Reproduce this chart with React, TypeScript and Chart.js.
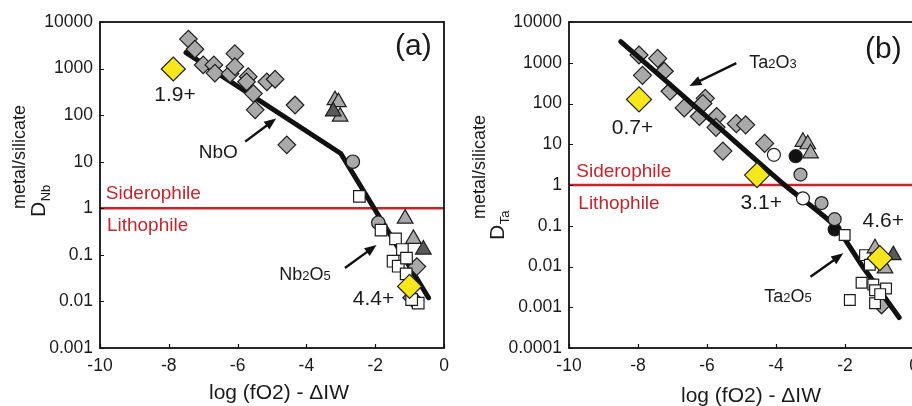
import React, { useEffect, useRef } from 'react';
import { Chart, registerables } from 'chart.js';

Chart.register(...registerables);

const FONT = '"Liberation Sans", Arial, Helvetica, sans-serif';
const RED = '#c1272d';
const GRAY = '#a9a9a9';
const DARK = '#595959';
const YELLOW = '#f6e71d';
const INK = '#1e1e1e';

// ---------- axes ----------
const X_TICKS = [-10, -8, -6, -4, -2, 0];
const X_TICK_LABELS = ['-10', '-8', '-6', '-4', '-2', '0'];
const Y_TICKS_A = [0.001, 0.01, 0.1, 1, 10, 100, 1000, 10000];
const Y_TICK_LABELS_A = ['0.001', '0.01', '0.1', '1', '10', '100', '1000', '10000'];
const Y_TICKS_B = [0.0001, 0.001, 0.01, 0.1, 1, 10, 100, 1000, 10000];
const Y_TICK_LABELS_B = ['0.0001', '0.001', '0.01', '0.1', '1', '10', '100', '1000', '10000'];

// ---------- panel (a): Nb ----------
const nbGrayDiamondX = [-7.43, -7.24, -7.0, -6.69, -6.66, -6.22, -6.08, -6.08, -5.69, -5.74, -5.54, -5.15, -4.91, -5.49, -4.57, -4.33, -0.79, -0.94];
const nbGrayDiamondY = [4300, 2600, 1200, 1200, 800, 770, 2100, 1100, 670, 520, 290, 520, 590, 130, 23, 165, 0.056, 0.012];
const nbYellowX = [-7.87, -1.0];
const nbYellowY = [980, 0.021];
const nbGrayCircleX = [-2.65, -1.91];
const nbGrayCircleY = [10, 0.49];
const nbSquareX = [-2.46, -1.83, -1.41, -1.21, -1.48, -1.33, -1.09, -1.10, -0.75, -0.94];
const nbSquareY = [1.8, 0.34, 0.22, 0.13, 0.073, 0.057, 0.085, 0.039, 0.0092, 0.011];
const nbLightTriX = [-3.17, -3.07, -3.02, -1.13, -0.89];
const nbLightTriY = [210, 190, 93, 0.6, 0.22];
const nbDarkTriX = [-3.22, -0.6];
const nbDarkTriY = [120, 0.13];
const nbFitX = [-7.5, -3.0, -0.45];
const nbFitY = [2200, 15, 0.012];

// ---------- panel (b): Ta ----------
const taGrayDiamondX = [-7.97, -7.43, -7.87, -7.24, -7.07, -6.66, -6.22, -6.05, -6.12, -5.72, -5.74, -5.15, -4.88, -5.54, -4.33, -0.94];
const taGrayDiamondY = [1550, 1280, 490, 620, 200, 78, 48, 134, 100, 48, 26, 32, 30, 6.8, 10.5, 0.00115];
const taYellowX = [-7.97, -4.55, -0.99];
const taYellowY = [126, 1.75, 0.016];
const taWhiteCircleX = [-4.06, -3.22];
const taWhiteCircleY = [5.5, 0.47];
const taBlackCircleX = [-3.43, -2.30];
const taBlackCircleY = [5.1, 0.081];
const taGrayCircleX = [-3.29, -2.68, -2.30];
const taGrayCircleY = [1.8, 0.36, 0.145];
const taLightTriX = [-3.22, -3.08, -3.0, -1.13, -0.84];
const taLightTriY = [11.5, 10, 6, 0.028, 0.009];
const taDarkTriX = [-0.6];
const taDarkTriY = [0.019];
const taSquareX = [-2.01, -1.42, -1.28, -1.52, -1.18, -1.13, -0.81, -1.86, -1.13, -0.98];
const taSquareY = [0.059, 0.019, 0.011, 0.004, 0.0036, 0.0026, 0.0029, 0.0015, 0.00126, 0.0021];
const taFitX = [-8.5, -6, -3.75, -2.3, -1.5, -0.43];
const taFitY = [3300, 47, 1, 0.1, 0.0103, 0.00056];

// boundary line (metal/silicate D = 1)
const boundaryX = [-10, 0];
const boundaryY = [1, 1];

// ---------- helpers ----------
const pts = (xs: number[], ys: number[]) => xs.map((x, i) => ({ x, y: ys[i] }));

function marker(label: string, xs: number[], ys: number[], style: string, radius: number, fill: string) {
  return {
    label,
    data: pts(xs, ys),
    showLine: false,
    pointStyle: style,
    pointRadius: radius,
    pointBackgroundColor: fill,
    pointBorderColor: INK,
    pointBorderWidth: 1.2,
  };
}

function line(label: string, xs: number[], ys: number[], color: string, width: number, tension = 0) {
  return {
    label,
    data: pts(xs, ys),
    showLine: true,
    borderColor: color,
    borderWidth: width,
    pointRadius: 0,
    tension,
    fill: false,
    borderCapStyle: 'round',
    borderJoinStyle: 'round',
  };
}

type Part = [string, number];
interface TextAnn { x: number; y: number; parts: Part[]; align: 'left' | 'center'; color: string; vc?: number }
interface ArrowAnn { x1: number; y1: number; x2: number; y2: number }
interface PanelCfg {
  width: number;
  axisWidth: number;
  padRight: number;
  yMin: number;
  yMax: number;
  yTicks: number[];
  yTickLabels: string[];
  yPad: number;
  datasets: any[];
  texts: TextAnn[];
  arrows: ArrowAnn[];
  yTitle: { mx: number; my: number; dx: number; dy: number; sub: string };
  xTitle: { x: number; y: number };
}

function drawParts(ctx: CanvasRenderingContext2D, t: TextAnn, px: number, py: number) {
  let total = 0;
  const widths = t.parts.map(([s, size]) => {
    ctx.font = `${size}px ${FONT}`;
    const w = ctx.measureText(s).width;
    total += w;
    return w;
  });
  const main = Math.max(...t.parts.map((p) => p[1]));
  const base = py + main * (t.vc ?? 0.358);
  let cx = t.align === 'center' ? px - total / 2 : px;
  ctx.fillStyle = t.color;
  ctx.textAlign = 'left';
  ctx.textBaseline = 'alphabetic';
  t.parts.forEach(([s, size], i) => {
    ctx.font = `${size}px ${FONT}`;
    ctx.fillText(s, cx, base);
    cx += widths[i];
  });
}

function drawArrow(ctx: CanvasRenderingContext2D, x1: number, y1: number, x2: number, y2: number) {
  const ang = Math.atan2(y2 - y1, x2 - x1);
  const head = 12;
  const half = 4.8;
  const bx = x2 - Math.cos(ang) * head;
  const by = y2 - Math.sin(ang) * head;
  ctx.strokeStyle = '#111';
  ctx.lineWidth = 2.4;
  ctx.beginPath();
  ctx.moveTo(x1, y1);
  ctx.lineTo(bx + Math.cos(ang) * 2, by + Math.sin(ang) * 2);
  ctx.stroke();
  ctx.fillStyle = '#111';
  ctx.beginPath();
  ctx.moveTo(x2, y2);
  ctx.lineTo(bx - Math.sin(ang) * half, by + Math.cos(ang) * half);
  ctx.lineTo(bx + Math.sin(ang) * half, by - Math.cos(ang) * half);
  ctx.closePath();
  ctx.fill();
}

function makeChart(canvas: HTMLCanvasElement, cfg: PanelCfg) {
  const decor = {
    id: 'decor',
    afterDatasetsDraw(chart: any) {
      const { ctx, chartArea: a, scales } = chart;
      const xs = scales.x;
      const ys = scales.y;
      ctx.save();
      // annotations
      cfg.arrows.forEach((ar) => {
        drawArrow(ctx, xs.getPixelForValue(ar.x1), ys.getPixelForValue(ar.y1), xs.getPixelForValue(ar.x2), ys.getPixelForValue(ar.y2));
      });
      cfg.texts.forEach((t) => drawParts(ctx, t, xs.getPixelForValue(t.x), ys.getPixelForValue(t.y)));
      // frame
      ctx.strokeStyle = '#111';
      ctx.lineWidth = 1.8;
      ctx.strokeRect(a.left, a.top, a.right - a.left, a.bottom - a.top);
      // inward ticks
      ctx.lineWidth = 1.2;
      ctx.beginPath();
      cfg.yTicks.forEach((v) => {
        const p = Math.round(ys.getPixelForValue(v)) + 0.5;
        ctx.moveTo(a.left, p);
        ctx.lineTo(a.left + 4, p);
      });
      X_TICKS.forEach((v) => {
        const p = Math.round(xs.getPixelForValue(v)) + 0.5;
        ctx.moveTo(p, a.bottom);
        ctx.lineTo(p, a.bottom - 4);
      });
      ctx.stroke();
      // axis titles
      ctx.fillStyle = '#1a1a1a';
      ctx.font = `21px ${FONT}`;
      ctx.textAlign = 'center';
      ctx.textBaseline = 'middle';
      ctx.fillText('log (fO2) - \u0394IW', cfg.xTitle.x, cfg.xTitle.y);

      const yt = cfg.yTitle;
      ctx.save();
      ctx.translate(yt.mx, yt.my);
      ctx.rotate(-Math.PI / 2);
      ctx.font = `18px ${FONT}`;
      ctx.textAlign = 'center';
      ctx.textBaseline = 'alphabetic';
      ctx.fillText('metal/silicate', 0, 0);
      ctx.restore();

      ctx.save();
      ctx.translate(yt.dx, yt.dy);
      ctx.rotate(-Math.PI / 2);
      ctx.textAlign = 'left';
      ctx.textBaseline = 'alphabetic';
      ctx.font = `21px ${FONT}`;
      ctx.fillText('D', 0, 0);
      const dw = ctx.measureText('D').width;
      ctx.font = `13px ${FONT}`;
      ctx.fillText(yt.sub, dw + 0.5, 5);
      ctx.restore();
      ctx.restore();
    },
  };

  const n = cfg.datasets.length;
  const datasets = cfg.datasets.map((d, i) => ({ ...d, order: n - i }));

  return new Chart(canvas, {
    type: 'scatter',
    data: { datasets },
    plugins: [decor],
    options: {
      responsive: false,
      animation: false,
      devicePixelRatio: 1,
      events: [],
      layout: { padding: { left: 0, right: cfg.padRight, top: 22, bottom: 0 } },
      plugins: { legend: { display: false }, tooltip: { enabled: false } },
      scales: {
        x: {
          type: 'linear',
          min: -10,
          max: 0,
          grid: { display: false, drawTicks: false },
          border: { display: false },
          afterFit: (s: any) => { s.height = 58; },
          afterBuildTicks: (s: any) => { s.ticks = X_TICKS.map((value) => ({ value })); },
          ticks: {
            autoSkip: false,
            maxRotation: 0,
            padding: 8,
            color: '#1a1a1a',
            font: { family: FONT, size: 17.5 },
            callback: (v: any) => {
              const i = X_TICKS.findIndex((t) => Math.abs(t - v) < 1e-9);
              return i >= 0 ? X_TICK_LABELS[i] : '';
            },
          },
        },
        y: {
          type: 'logarithmic',
          min: cfg.yMin,
          max: cfg.yMax,
          grid: { display: false, drawTicks: false },
          border: { display: false },
          afterFit: (s: any) => { s.width = cfg.axisWidth; },
          afterBuildTicks: (s: any) => { s.ticks = cfg.yTicks.map((value) => ({ value })); },
          ticks: {
            autoSkip: false,
            padding: cfg.yPad,
            color: '#1a1a1a',
            font: { family: FONT, size: 17.5 },
            callback: (v: any) => {
              const i = cfg.yTicks.findIndex((t) => Math.abs(Math.log10(t) - Math.log10(v)) < 1e-6);
              return i >= 0 ? cfg.yTickLabels[i] : '';
            },
          },
        },
      },
    } as any,
  });
}

const panelA: PanelCfg = {
  width: 460,
  axisWidth: 100,
  padRight: 16,
  yMin: 0.001,
  yMax: 10000,
  yTicks: Y_TICKS_A,
  yTickLabels: Y_TICK_LABELS_A,
  yPad: 7,
  datasets: [
    line('boundary', boundaryX, boundaryY, RED, 2.6),
    line('fit', nbFitX, nbFitY, '#111', 5),
    marker('diamonds', nbGrayDiamondX, nbGrayDiamondY, 'rectRot', 8.8, GRAY),
    marker('circles', nbGrayCircleX, nbGrayCircleY, 'circle', 6.7, GRAY),
    marker('squares', nbSquareX, nbSquareY, 'rect', 8.2, '#ffffff'),
    marker('triangles', nbLightTriX, nbLightTriY, 'triangle', 9, GRAY),
    marker('dark triangles', nbDarkTriX, nbDarkTriY, 'triangle', 9, DARK),
    marker('yellow', nbYellowX, nbYellowY, 'rectRot', 12, YELLOW),
  ],
  texts: [
    { x: -0.89, y: 2950, parts: [['(a)', 30]], align: 'center', color: '#1a1a1a', vc: 0.27 },
    { x: -7.82, y: 295, parts: [['1.9+', 21]], align: 'center', color: '#1a1a1a' },
    { x: -6.56, y: 16.5, parts: [['NbO', 19]], align: 'center', color: '#1a1a1a' },
    { x: -4.04, y: 0.039, parts: [['Nb', 18], ['2', 13], ['O', 18], ['5', 13]], align: 'center', color: '#1a1a1a' },
    { x: -2.05, y: 0.012, parts: [['4.4+', 21]], align: 'center', color: '#1a1a1a' },
    { x: -9.83, y: 2.04, parts: [['Siderophile', 19]], align: 'left', color: RED, vc: 0.27 },
    { x: -9.8, y: 0.42, parts: [['Lithophile', 19]], align: 'left', color: RED, vc: 0.27 },
  ],
  arrows: [
    { x1: -5.78, y1: 27, x2: -4.88, y2: 85 },
    { x1: -2.88, y1: 0.052, x2: -1.96, y2: 0.163 },
  ],
  yTitle: { mx: 25, my: 157, dx: 45, dy: 217, sub: 'Nb' },
  xTitle: { x: 279, y: 393 },
};

const panelB: PanelCfg = {
  width: 470,
  axisWidth: 109,
  padRight: 16,
  yMin: 0.0001,
  yMax: 10000,
  yTicks: Y_TICKS_B,
  yTickLabels: Y_TICK_LABELS_B,
  yPad: 7,
  datasets: [
    line('boundary', boundaryX, boundaryY, RED, 2.6),
    marker('diamonds', taGrayDiamondX, taGrayDiamondY, 'rectRot', 9, GRAY),
    line('fit', taFitX, taFitY, '#111', 5, 0.25),
    marker('white circles', taWhiteCircleX, taWhiteCircleY, 'circle', 6.5, '#ffffff'),
    marker('black circles', taBlackCircleX, taBlackCircleY, 'circle', 6.5, '#111111'),
    marker('gray circles', taGrayCircleX, taGrayCircleY, 'circle', 6.5, GRAY),
    marker('squares', taSquareX, taSquareY, 'rect', 7.6, '#ffffff'),
    marker('triangles', taLightTriX, taLightTriY, 'triangle', 9, GRAY),
    marker('dark triangles', taDarkTriX, taDarkTriY, 'triangle', 9, DARK),
    marker('yellow', taYellowX, taYellowY, 'rectRot', 12.5, YELLOW),
  ],
  texts: [
    { x: -0.89, y: 2050, parts: [['(b)', 30]], align: 'center', color: '#1a1a1a', vc: 0.27 },
    { x: -4.09, y: 1070, parts: [['Ta', 18], ['2', 13], ['O', 18], ['3', 13]], align: 'center', color: '#1a1a1a' },
    { x: -8.16, y: 28, parts: [['0.7+', 21]], align: 'center', color: '#1a1a1a' },
    { x: -4.43, y: 0.39, parts: [['3.1+', 21]], align: 'center', color: '#1a1a1a' },
    { x: -0.89, y: 0.144, parts: [['4.6+', 21]], align: 'center', color: '#1a1a1a' },
    { x: -3.65, y: 0.0019, parts: [['Ta', 18], ['2', 13], ['O', 18], ['5', 13]], align: 'center', color: '#1a1a1a' },
    { x: -9.79, y: 2.13, parts: [['Siderophile', 19]], align: 'left', color: RED, vc: 0.27 },
    { x: -9.73, y: 0.34, parts: [['Lithophile', 19]], align: 'left', color: RED, vc: 0.27 },
  ],
  arrows: [
    { x1: -5.15, y1: 980, x2: -6.51, y2: 270 },
    { x1: -3.0, y1: 0.0056, x2: -2.05, y2: 0.021 },
  ],
  yTitle: { mx: 25, my: 167, dx: 44, dy: 240, sub: 'Ta' },
  xTitle: { x: 291, y: 396 },
};

export default function App() {
  const refA = useRef<HTMLCanvasElement | null>(null);
  const refB = useRef<HTMLCanvasElement | null>(null);

  useEffect(() => {
    const a = refA.current ? makeChart(refA.current, panelA) : null;
    const b = refB.current ? makeChart(refB.current, panelB) : null;
    return () => {
      a?.destroy();
      b?.destroy();
    };
  }, []);

  return (
    <div style={{ position: 'fixed', left: 0, top: 0, width: 912, height: 406, overflow: 'hidden', background: '#ffffff' }}>
      <canvas ref={refA} width={460} height={406} style={{ position: 'absolute', left: 0, top: 0, width: 460, height: 406 }} />
      <canvas ref={refB} width={470} height={406} style={{ position: 'absolute', left: 460, top: 0, width: 470, height: 406 }} />
    </div>
  );
}
